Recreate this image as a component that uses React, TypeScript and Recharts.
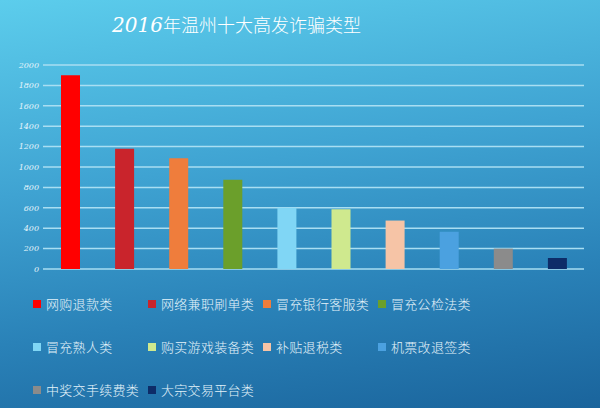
import { BarChart, Bar, Cell, XAxis, YAxis, CartesianGrid } from "recharts";

const categories = [
  "网购退款类",
  "网络兼职刷单类",
  "冒充银行客服类",
  "冒充公检法类",
  "冒充熟人类",
  "购买游戏装备类",
  "补贴退税类",
  "机票改退签类",
  "中奖交手续费类",
  "大宗交易平台类",
];
const cases = [1900, 1180, 1085, 875, 600, 585, 475, 365, 200, 108];
const colors = [
  "#ff0000",
  "#c9242c",
  "#ef7d3c",
  "#6b9f2b",
  "#80d6f5",
  "#cfe98e",
  "#f6c4a6",
  "#4ba1e0",
  "#8b8b8b",
  "#0d2c68",
];
const yTicks = [0, 200, 400, 600, 800, 1000, 1200, 1400, 1600, 1800, 2000];

const data = categories.map((name, i) => ({ name, value: cases[i] }));

export default function App() {
  return (
    <div
      style={{
        position: "absolute",
        left: 0,
        top: 0,
        width: 600,
        height: 408,
        overflow: "hidden",
        background: "linear-gradient(172deg, #5ccdec 0%, #3fa3d2 40%, #2a82b8 70%, #1a649c 100%)",
        fontFamily: "'Noto Sans CJK SC', 'Noto Sans', sans-serif",
      }}
    >
      <div
        style={{
          position: "absolute",
          left: 112,
          top: 9,
          color: "#ffffff",
          fontSize: 18,
          whiteSpace: "nowrap",
          lineHeight: "30px",
        }}
      >
        <span style={{ fontStyle: "italic", fontSize: 20, fontFamily: "'DejaVu Serif', serif" }}>2016</span>
        <span style={{ fontWeight: 300 }}>年温州十大高发诈骗类型</span>
      </div>
      <BarChart
        width={600}
        height={408}
        data={data}
        margin={{ top: 65, right: 16, left: 0, bottom: 139 }}
        style={{ position: "absolute", left: 0, top: 0 }}
      >
        <CartesianGrid vertical={false} stroke="#a9def2" strokeWidth={1.5} />
        <XAxis dataKey="name" hide />
        <YAxis
          width={43}
          domain={[0, 2000]}
          ticks={yTicks}
          axisLine={false}
          tickLine={false}
          tickSize={0}
          tickMargin={4}
          interval={0}
          tick={{ fill: "#e6f5fb", fontSize: 8, fontStyle: "italic", fontFamily: "'DejaVu Serif', serif" }}
        />
        <Bar dataKey="value" barSize={19} isAnimationActive={false}>
          {data.map((d, i) => (
            <Cell key={d.name} fill={colors[i]} />
          ))}
        </Bar>
      </BarChart>
      <div
        style={{
          position: "absolute",
          left: 33,
          top: 293,
          display: "grid",
          gridTemplateColumns: "115px 115px 115px 140px",
          rowGap: 22,
        }}
      >
        {categories.map((c, i) => (
          <div
            key={c}
            style={{
              display: "flex",
              alignItems: "center",
              height: 21,
              color: "#e4f3fa",
              fontSize: 13,
              letterSpacing: 0.3,
              fontWeight: 300,
              whiteSpace: "nowrap",
            }}
          >
            <span style={{ width: 8, height: 8, background: colors[i], marginRight: 5, display: "inline-block" }} />
            {c}
          </div>
        ))}
      </div>
    </div>
  );
}
